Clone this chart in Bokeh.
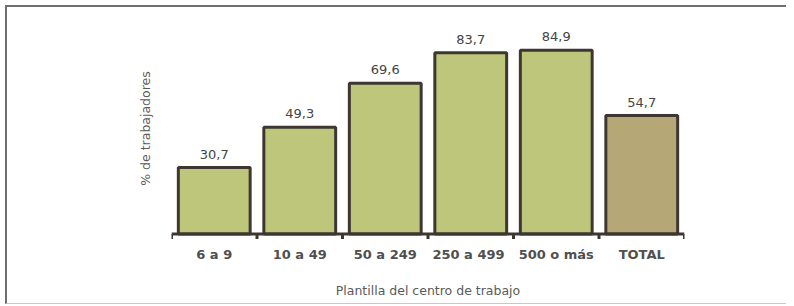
from bokeh.plotting import figure
from bokeh.models import FactorRange, Range1d, ColumnDataSource, FixedTicker
from bokeh.core.properties import value
from bokeh.embed import file_html
from bokeh.resources import INLINE

categories = ["6 a 9", "10 a 49", "50 a 249", "250  a 499", "500 o más", "TOTAL"]
values = [30.7, 49.3, 69.6, 83.7, 84.9, 54.7]
fill_colors = ["#BDC67B", "#BDC67B", "#BDC67B", "#BDC67B", "#BDC67B", "#B5A876"]
value_labels = [f"{v:.1f}".replace(".", ",") for v in values]
boundaries = list(range(len(categories) + 1))
y_title = "% de trabajadores"
x_title = "Plantilla del centro de trabajo"

FONT = "DejaVu Sans"

p = figure(
    frame_width=513, frame_height=222,
    x_range=FactorRange(*categories, range_padding=0),
    y_range=Range1d(-2.5, 100),
    output_backend="svg", toolbar_location=None,
    min_border_left=164, min_border_right=102, min_border_top=10, min_border_bottom=64,
)
p.styles = {
    "border-left": "2px solid #707070",
    "border-top": "2px solid #707070",
    "border-bottom": "1px solid #c8c8c8",
    "margin-left": "5px",
    "margin-top": "5px",
}
p.outline_line_color = None
p.grid.visible = False

src = ColumnDataSource(dict(cat=categories, val=values, color=fill_colors, lab=value_labels))
p.vbar(x="cat", top="val", bottom=0, width=0.84, source=src,
       fill_color="color", line_color="#3E3731", line_width=3)
p.text(x="cat", y="val", text="lab", source=src, y_offset=-9,
       text_align="center", text_baseline="bottom",
       text_font=value(FONT), text_font_size="13px", text_color="#444444")

# axis baseline and boundary ticks
p.segment(x0=[0], y0=[0], x1=[len(categories)], y1=[0], line_color="#3E3731", line_width=3)
p.segment(x0=boundaries, y0=[0] * len(boundaries), x1=boundaries, y1=[-2.3] * len(boundaries),
          line_color="#3E3731", line_width=3)

xa = p.xaxis[0]
xa.axis_line_color = None
xa.major_tick_line_color = None
xa.minor_tick_line_color = None
xa.major_tick_out = 0
xa.major_tick_in = 0
xa.major_label_standoff = 7
xa.major_label_text_font = FONT
xa.major_label_text_font_style = "bold"
xa.major_label_text_font_size = "13px"
xa.major_label_text_color = "#505050"
xa.axis_label = x_title
xa.axis_label_text_font = FONT
xa.axis_label_text_font_style = "normal"
xa.axis_label_text_font_size = "12.5px"
xa.axis_label_text_color = "#5a5a5a"
xa.axis_label_standoff = 18

ya = p.yaxis[0]
ya.ticker = FixedTicker(ticks=[])
ya.axis_line_color = None
ya.major_tick_line_color = None
ya.minor_tick_line_color = None
ya.major_tick_out = 0
ya.major_tick_in = 0
ya.axis_label = y_title
ya.axis_label_text_font = FONT
ya.axis_label_text_font_style = "normal"
ya.axis_label_text_font_size = "12.5px"
ya.axis_label_text_color = "#5a5a5a"
ya.axis_label_standoff = 19

open("out.html", "w").write(file_html(p, INLINE))
